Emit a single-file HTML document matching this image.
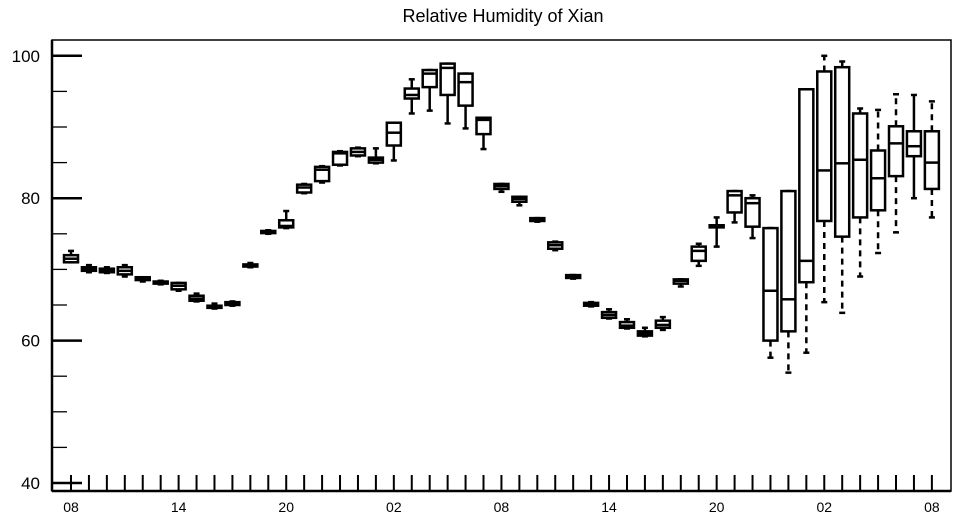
<!DOCTYPE html>
<html><head><meta charset="utf-8"><style>
html,body{margin:0;padding:0;background:#fff;}
svg{display:block;font-family:"Liberation Sans",sans-serif;}
</style></head><body>
<svg id="chart" width="957" height="520" viewBox="0 0 957 520">
<text x="503" y="22" text-anchor="middle" font-size="18">Relative Humidity of Xian</text>
<rect x="52" y="40" width="899" height="451" fill="none" stroke="#000" stroke-width="1.5"/>
<g id="axes"></g>
<g id="boxes"></g>
</svg>
<script>
const hourLabels = ["08","14","20","02","08","14","20","02","08"];
const yTickLabels = [40,60,80,100];
const q1s  = [71.0,69.8,69.6,69.3,68.5,68.0,67.2,65.6,64.6,65.0,70.4,75.1,75.9,80.8,82.4,84.7,86.0,85.0,87.4,94.0,95.6,94.5,93.0,89.0,81.3,79.5,76.8,72.9,68.8,64.9,63.2,61.8,60.7,61.8,68.0,71.2,75.9,78.0,76.0,60.0,61.3,68.2,76.8,74.6,77.3,78.3,83.1,85.9,81.3];
const meds = [71.5,70.0,69.8,69.8,68.7,68.1,67.7,65.9,64.7,65.2,70.5,75.2,76.1,81.5,84.0,86.3,86.5,85.4,89.2,94.5,97.5,98.3,96.3,91.0,81.7,79.9,77.0,73.4,69.0,65.1,63.6,62.1,61.0,62.2,68.4,72.6,76.0,80.4,79.3,67.0,65.8,71.2,83.9,84.9,85.4,82.8,87.7,87.3,85.0];
const q3s  = [72.0,70.3,70.1,70.3,68.9,68.3,68.1,66.3,64.9,65.4,70.7,75.4,76.9,81.9,84.4,86.5,87.0,85.7,90.6,95.4,98.0,98.9,97.5,91.3,82.0,80.2,77.2,73.8,69.2,65.3,64.0,62.6,61.3,62.8,68.6,73.2,76.2,81.0,80.0,75.8,81.0,95.3,97.8,98.4,91.9,86.7,90.1,89.4,89.4];
const mins = [71.0,69.6,69.5,69.0,68.3,67.9,67.0,65.5,64.5,64.9,70.3,75.0,75.8,80.7,82.2,84.6,85.9,84.9,85.3,91.9,92.3,90.5,89.8,86.9,80.9,79.0,76.7,72.7,68.7,64.8,63.1,61.7,60.6,61.5,67.6,70.5,73.2,76.6,74.4,57.6,55.5,58.3,65.4,63.9,69.0,72.3,75.2,80.0,77.3];
const maxs = [72.6,70.6,70.3,70.6,68.9,68.4,68.1,66.6,65.2,65.5,70.9,75.5,78.2,82.0,84.5,86.6,87.1,87.0,90.6,96.7,98.0,98.9,97.5,91.3,82.0,80.2,77.2,73.9,69.2,65.4,64.4,63.0,61.8,63.3,68.6,73.6,77.3,81.0,80.4,75.8,81.0,95.3,100.0,99.2,92.6,92.4,94.6,94.5,93.6];
const NS="http://www.w3.org/2000/svg";
const X0=71, HOURPX=17.935;
function xPos(i){return X0+HOURPX*i;}
function yPos(v){return 483-(v-40)*7.12;}
function mk(tag,attrs,parent){const e=document.createElementNS(NS,tag);for(const k in attrs)e.setAttribute(k,attrs[k]);parent.appendChild(e);return e;}
const axes=document.getElementById('axes'), boxes=document.getElementById('boxes');
mk('line',{x1:52,y1:491,x2:951,y2:491,stroke:'#000','stroke-width':2.5},axes);
mk('line',{x1:52,y1:40,x2:52,y2:491,stroke:'#000','stroke-width':2.5},axes);
for(let v=40;v<=100;v+=5){
  const major=v%20===0;
  const t=mk('line',{x1:52,y1:yPos(v),x2:major?82:67,y2:yPos(v),stroke:'#000','stroke-width':major?2.5:1.3},axes);
  
  
}
yTickLabels.forEach(v=>{
  const t=mk('text',{x:40,y:yPos(v)+6,'text-anchor':'end','font-size':17},axes);
  t.textContent=v;
  
  
});
for(let i=0;i<q1s.length;i++){
  const t=mk('line',{x1:xPos(i),y1:475,x2:xPos(i),y2:491,stroke:'#000','stroke-width':2},axes);
  
  
}
hourLabels.forEach((l,k)=>{
  const t=mk('text',{x:xPos(k*6),y:512,'text-anchor':'middle','font-size':14},axes);
  t.textContent=l;
  
  
});
for(let i=0;i<q1s.length;i++){
  const g=mk('g',{},boxes);
  
  
  const x=xPos(i), w=14, st={stroke:'#000','stroke-width':2.5,fill:'none'};
  const dash=(q3s[i]-q1s[i])>5?'6,5':'none';
  mk('line',Object.assign({x1:x,y1:yPos(q3s[i]),x2:x,y2:yPos(maxs[i]),'stroke-dasharray':dash},st),g);
  mk('line',Object.assign({x1:x,y1:yPos(q1s[i]),x2:x,y2:yPos(mins[i]),'stroke-dasharray':dash},st),g);
  mk('line',Object.assign({x1:x-3,y1:yPos(maxs[i]),x2:x+3,y2:yPos(maxs[i])},st),g);
  mk('line',Object.assign({x1:x-3,y1:yPos(mins[i]),x2:x+3,y2:yPos(mins[i])},st),g);
  const top=yPos(q3s[i]), bot=yPos(q1s[i]);
  mk('rect',Object.assign({x:x-w/2,y:top,width:w,height:Math.max(bot-top,1.5),fill:'#fff'},{stroke:'#000','stroke-width':2.5}),g);
  mk('line',Object.assign({x1:x-w/2,y1:yPos(meds[i]),x2:x+w/2,y2:yPos(meds[i])},st),g);
}
</script>
</body></html>
